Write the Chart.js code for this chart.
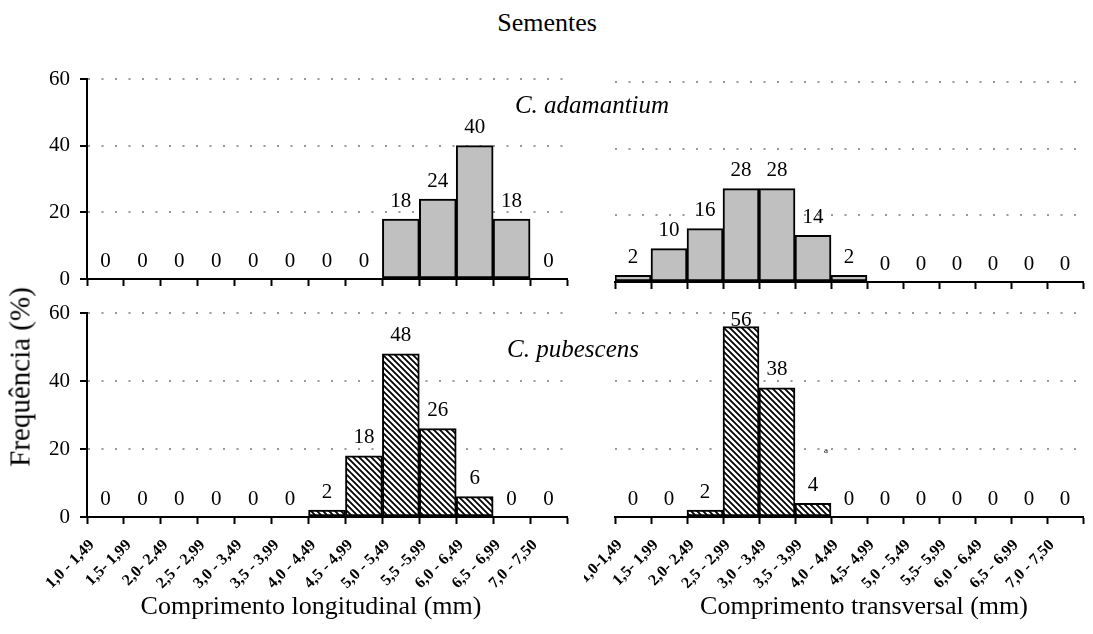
<!DOCTYPE html>
<html>
<head>
<meta charset="utf-8">
<script src="https://cdn.jsdelivr.net/npm/chart.js@4.4.1/dist/chart.umd.min.js"></script>
<style>
  body { margin: 0; background: #fff; }
  #page { position: relative; width: 1093px; height: 634px; overflow: hidden; font-family: "Liberation Serif", "Times New Roman", serif; color: #000; }
  canvas { position: absolute; }
  .txt { position: absolute; white-space: nowrap; line-height: 1; transform: translate(-50%, -50%); }
</style>
</head>
<body>
<div id="page">
  <canvas id="tl" width="578" height="240" style="left:0;top:60px"></canvas>
  <canvas id="tr" width="515" height="240" style="left:578px;top:60px"></canvas>
  <canvas id="bl" width="578" height="344" style="left:0;top:290px"></canvas>
  <canvas id="br" width="509" height="344" style="left:584px;top:290px"></canvas>

  <div class="txt" style="left:547px;top:23px;font-size:26px">Sementes</div>
  <div class="txt" style="left:20px;top:377px;font-size:29px;transform:translate(-50%,-50%) rotate(-90deg)">Frequência (%)</div>
  <div class="txt" style="left:311px;top:606px;font-size:26px">Comprimento longitudinal (mm)</div>
  <div class="txt" style="left:864px;top:606px;font-size:26px">Comprimento transversal (mm)</div>
  <div class="txt" style="left:592px;top:104px;font-size:25px;font-style:italic">C. adamantium</div>
  <div class="txt" style="left:573px;top:348px;font-size:25px;font-style:italic">C. pubescens</div>
  <div class="txt" style="left:826px;top:450px;font-size:9px">a</div>
</div>

<script>
// class limits (mm)
const leftLabels = ['1,0 - 1,49', '1,5- 1,99', '2,0- 2,49', '2,5 - 2,99', '3,0 - 3,49', '3,5 - 3,99', '4,0 - 4,49',
    '4,5 - 4,99', '5,0 - 5,49', '5,5 -5,99', '6,0 - 6,49', '6,5 - 6,99', '7,0 - 7,50'];
const rightLabels = ['1,0-1,49', '1,5- 1,99', '2,0- 2,49', '2,5 - 2,99', '3,0 - 3,49', '3,5 - 3,99', '4,0 - 4,49',
    '4,5- 4,99', '5,0 - 5,49', '5,5- 5,99', '6,0 - 6,49', '6,5 - 6,99', '7,0 - 7,50'];

// frequencies (%)
const adamantiumLong = [0, 0, 0, 0, 0, 0, 0, 0, 18, 24, 40, 18, 0];
const adamantiumTrans = [2, 10, 16, 28, 28, 14, 2, 0, 0, 0, 0, 0, 0];
const pubescensLong = [0, 0, 0, 0, 0, 0, 2, 18, 48, 26, 6, 0, 0];
const pubescensTrans = [0, 0, 2, 56, 38, 4, 0, 0, 0, 0, 0, 0, 0];

const yTicks = [0, 20, 40, 60];

Chart.defaults.font.family = '"Liberation Serif", "Times New Roman", serif';
Chart.defaults.color = '#000';

function hatchPattern() {
    const c = document.createElement('canvas');
    c.width = 6; c.height = 6;
    const g = c.getContext('2d');
    g.fillStyle = '#fff';
    g.fillRect(0, 0, 6, 6);
    g.strokeStyle = '#000';
    g.lineWidth = 1.8;
    g.beginPath();
    g.moveTo(-1, -1); g.lineTo(7, 7);
    g.moveTo(-1, 5); g.lineTo(1, 7);
    g.moveTo(5, -1); g.lineTo(7, 1);
    g.stroke();
    return g.createPattern(c, 'repeat');
}

// value above each bar, kept inside the plot area
const valueLabels = {
    id: 'valueLabels',
    afterDatasetsDraw(chart) {
        const { ctx, chartArea } = chart;
        const meta = chart.getDatasetMeta(0);
        const pts = chart.data.datasets[0].data;
        ctx.save();
        ctx.font = '21px "Liberation Serif"';
        ctx.fillStyle = '#000';
        ctx.textAlign = 'center';
        ctx.textBaseline = 'middle';
        meta.data.forEach((bar, i) => {
            const y = Math.max(bar.y - 18, chartArea.top + 7);
            ctx.fillText(String(pts[i].y), bar.x, y);
        });
        ctx.restore();
    }
};

function makePanel(id, values, labels, fill, opt) {
    const ctx = document.getElementById(id).getContext('2d');
    return new Chart(ctx, {
        type: 'bar',
        data: {
            datasets: [{
                data: values.map((v, i) => ({ x: i + 0.5, y: v })),
                backgroundColor: fill,
                borderColor: '#000',
                borderWidth: 2,
                borderSkipped: false,
                categoryPercentage: 1,
                barPercentage: 1
            }]
        },
        options: {
            responsive: false, animation: false,
            layout: { padding: opt.padding },
            plugins: { legend: { display: false }, tooltip: { enabled: false } },
            scales: {
                x: {
                    type: 'linear', min: 0, max: values.length, offset: false,
                    ticks: {
                        display: !!labels, stepSize: 1, autoSkip: false,
                        minRotation: 45, maxRotation: 45, padding: 12, labelOffset: 5,
                        font: { size: 16, weight: 'bold' },
                        callback: v => (labels && labels[v]) || ''
                    },
                    grid: { offset: false, drawOnChartArea: false, drawTicks: true, tickLength: 7, tickColor: '#000', tickWidth: 2 },
                    border: { display: true, color: '#000', width: 2 },
                    afterFit: s => { s.height = opt.xHeight; s.paddingLeft = 0; s.paddingRight = 0; }
                },
                y: {
                    min: 0, max: 60,
                    afterBuildTicks: s => { s.ticks = yTicks.map(v => ({ value: v })); },
                    ticks: { display: opt.yLabels, padding: 10, font: { size: 21 } },
                    grid: {
                        color: c => (c.tick && c.tick.value === 0) ? 'rgba(0,0,0,0)' : '#999',
                        lineWidth: 2,
                        drawTicks: opt.yLabels, tickLength: 7, tickColor: '#000', tickWidth: 2
                    },
                    border: { display: opt.yLabels, color: '#000', width: 2, dash: [2, 11.5] },
                    afterFit: s => { s.width = opt.yWidth; s.paddingTop = 0; s.paddingBottom = 0; }
                }
            }
        },
        plugins: [valueLabels]
    });
}

const grey = '#c0c0c0';
const hatch = hatchPattern();

makePanel('tl', adamantiumLong, null, grey,
    { padding: { top: 19, right: 11, left: 0, bottom: 0 }, xHeight: 21, yWidth: 87, yLabels: true });
makePanel('tr', adamantiumTrans, null, grey,
    { padding: { top: 22, right: 10, left: 37, bottom: 0 }, xHeight: 18, yWidth: 0, yLabels: false });
makePanel('bl', pubescensLong, leftLabels, hatch,
    { padding: { top: 23, right: 11, left: 0, bottom: 0 }, xHeight: 117, yWidth: 87, yLabels: true });
makePanel('br', pubescensTrans, rightLabels, hatch,
    { padding: { top: 23, right: 10, left: 31, bottom: 0 }, xHeight: 117, yWidth: 0, yLabels: false });
</script>
</body>
</html>
